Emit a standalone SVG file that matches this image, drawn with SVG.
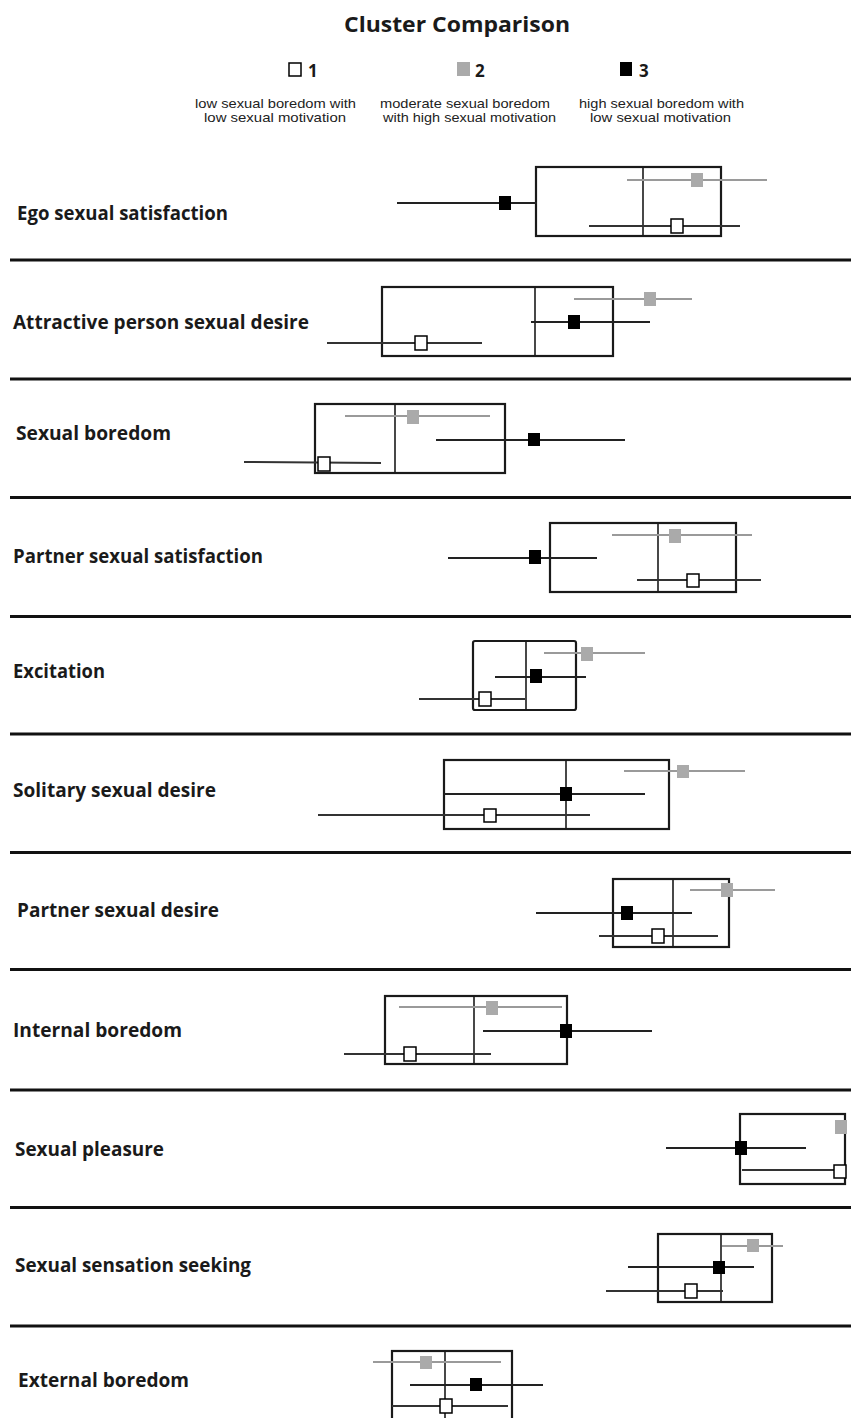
<svg xmlns="http://www.w3.org/2000/svg" width="851" height="1418" viewBox="0 0 851 1418">
<style>
.bg{fill:#fff}
.sep{stroke:#111;stroke-width:3.2}
.box{fill:none;stroke:#1a1a1a;stroke-width:2.2}
.med{stroke:#1a1a1a;stroke-width:1.6}
.eg{stroke:#9a9a9a;stroke-width:2}
.eb{stroke:#222;stroke-width:2}
.ew{stroke:#333;stroke-width:2}
.sg{fill:#aaa}
.sb{fill:#000}
.sw{fill:#fff;stroke:#000;stroke-width:1.5}
.lab{font-family:"Open Sans","DejaVu Sans",sans-serif;font-weight:bold;font-size:19.5px;fill:#1a1a1a}
.title{font-family:"Open Sans","DejaVu Sans",sans-serif;font-weight:bold;font-size:22px;fill:#1a1a1a}
.num{font-family:"Open Sans","DejaVu Sans",sans-serif;font-weight:bold;font-size:17px;fill:#1a1a1a}
.desc{font-family:"Liberation Sans",Arial,sans-serif;font-size:13.5px;fill:#222;text-anchor:middle}
</style>
<rect class="bg" x="0" y="0" width="851" height="1418"/>
<g id="header">
<text class="title" x="344" y="32" textLength="226" lengthAdjust="spacingAndGlyphs">Cluster Comparison</text>
<rect class="sw" x="289" y="63" width="12" height="13"/>
<text class="num" x="308" y="77">1</text>
<rect class="sg" x="457" y="62" width="13" height="14"/>
<text class="num" x="475" y="77">2</text>
<rect class="sb" x="620" y="62" width="12" height="14"/>
<text class="num" x="639" y="77">3</text>
<text class="desc" x="275.5" y="108" textLength="161" lengthAdjust="spacingAndGlyphs">low sexual boredom with</text>
<text class="desc" x="275" y="122" textLength="142" lengthAdjust="spacingAndGlyphs">low sexual motivation</text>
<text class="desc" x="465" y="108" textLength="170" lengthAdjust="spacingAndGlyphs">moderate sexual boredom</text>
<text class="desc" x="469.5" y="122" textLength="173" lengthAdjust="spacingAndGlyphs">with high sexual motivation</text>
<text class="desc" x="661.5" y="108" textLength="165" lengthAdjust="spacingAndGlyphs">high sexual boredom with</text>
<text class="desc" x="660.5" y="122" textLength="141" lengthAdjust="spacingAndGlyphs">low sexual motivation</text>
</g>
<g id="separators">
<line class="sep" x1="10" y1="260" x2="851" y2="260"/>
<line class="sep" x1="10" y1="379" x2="851" y2="379"/>
<line class="sep" x1="10" y1="497.5" x2="851" y2="497.5"/>
<line class="sep" x1="10" y1="616.5" x2="851" y2="616.5"/>
<line class="sep" x1="10" y1="734" x2="851" y2="734"/>
<line class="sep" x1="10" y1="852.5" x2="851" y2="852.5"/>
<line class="sep" x1="10" y1="969.5" x2="851" y2="969.5"/>
<line class="sep" x1="10" y1="1090" x2="851" y2="1090"/>
<line class="sep" x1="10" y1="1207.5" x2="851" y2="1207.5"/>
<line class="sep" x1="10" y1="1326" x2="851" y2="1326"/>
</g>
<g id="ego-sexual-satisfaction">
<text class="lab" x="17" y="220" textLength="211" lengthAdjust="spacingAndGlyphs">Ego sexual satisfaction</text>
<rect class="box" x="536" y="167" width="185" height="69"/>
<line class="med" x1="643" y1="167" x2="643" y2="236"/>
<line class="eg" x1="627" y1="180" x2="767" y2="180"/>
<rect class="sg" x="691" y="173" width="12" height="14"/>
<line class="eb" x1="397" y1="203" x2="537" y2="203"/>
<rect class="sb" x="499" y="196" width="12" height="14"/>
<line class="ew" x1="589" y1="226" x2="740" y2="226"/>
<rect class="sw" x="671" y="219" width="12" height="14"/>
</g>
<g id="attractive-person-sexual-desire">
<text class="lab" x="13" y="329" textLength="296" lengthAdjust="spacingAndGlyphs">Attractive person sexual desire</text>
<rect class="box" x="382" y="287" width="231" height="69"/>
<line class="med" x1="535" y1="287" x2="535" y2="356"/>
<line class="eg" x1="574" y1="299" x2="692" y2="299"/>
<rect class="sg" x="644" y="292" width="12" height="14"/>
<line class="eb" x1="531" y1="322" x2="650" y2="322"/>
<rect class="sb" x="568" y="315" width="12" height="14"/>
<line class="ew" x1="327" y1="343" x2="482" y2="343"/>
<rect class="sw" x="415" y="336" width="12" height="14"/>
</g>
<g id="sexual-boredom">
<text class="lab" x="16" y="440" textLength="155" lengthAdjust="spacingAndGlyphs">Sexual boredom</text>
<rect class="box" x="315" y="404" width="190" height="69"/>
<line class="med" x1="395" y1="404" x2="395" y2="473"/>
<line class="eg" x1="345" y1="416" x2="490" y2="416"/>
<rect class="sg" x="407" y="410" width="12" height="14"/>
<line class="eb" x1="436" y1="440" x2="625" y2="440"/>
<rect class="sb" x="528" y="433" width="12" height="13"/>
<line class="ew" x1="244" y1="462" x2="381" y2="463"/>
<rect class="sw" x="318" y="457" width="12" height="14"/>
</g>
<g id="partner-sexual-satisfaction">
<text class="lab" x="13" y="563" textLength="250" lengthAdjust="spacingAndGlyphs">Partner sexual  satisfaction</text>
<rect class="box" x="550" y="523" width="186" height="69"/>
<line class="med" x1="658" y1="523" x2="658" y2="592"/>
<line class="eg" x1="612" y1="535" x2="752" y2="535"/>
<rect class="sg" x="669" y="529" width="12" height="14"/>
<line class="eb" x1="448" y1="558" x2="597" y2="558"/>
<rect class="sb" x="529" y="550" width="12" height="14"/>
<line class="ew" x1="637" y1="580" x2="761" y2="580"/>
<rect class="sw" x="687" y="574" width="12" height="13"/>
</g>
<g id="excitation">
<text class="lab" x="13" y="678" textLength="92" lengthAdjust="spacingAndGlyphs">Excitation</text>
<rect class="box" x="473" y="641" width="103" height="69" rx="2"/>
<line class="med" x1="526" y1="641" x2="526" y2="710"/>
<line class="eg" x1="544" y1="653" x2="645" y2="653"/>
<rect class="sg" x="581" y="647" width="12" height="14"/>
<line class="eb" x1="495" y1="677" x2="586" y2="677"/>
<rect class="sb" x="530" y="669" width="12" height="14"/>
<line class="ew" x1="419" y1="699" x2="525" y2="699"/>
<rect class="sw" x="479" y="692" width="12" height="14"/>
</g>
<g id="solitary-sexual-desire">
<text class="lab" x="13" y="797" textLength="203" lengthAdjust="spacingAndGlyphs">Solitary sexual desire</text>
<rect class="box" x="444" y="760" width="225" height="69"/>
<line class="med" x1="566" y1="760" x2="566" y2="829"/>
<line class="eg" x1="624" y1="771" x2="745" y2="771"/>
<rect class="sg" x="677" y="765" width="12" height="13"/>
<line class="eb" x1="444" y1="794" x2="645" y2="794"/>
<rect class="sb" x="560" y="787" width="12" height="14"/>
<line class="ew" x1="318" y1="815" x2="590" y2="815"/>
<rect class="sw" x="484" y="809" width="12" height="13"/>
</g>
<g id="partner-sexual-desire">
<text class="lab" x="17" y="917" textLength="202" lengthAdjust="spacingAndGlyphs">Partner sexual  desire</text>
<rect class="box" x="613" y="879" width="116" height="68"/>
<line class="med" x1="673" y1="879" x2="673" y2="947"/>
<line class="eg" x1="690" y1="890" x2="775" y2="890"/>
<rect class="sg" x="721" y="883" width="12" height="14"/>
<line class="eb" x1="536" y1="913" x2="692" y2="913"/>
<rect class="sb" x="621" y="906" width="12" height="14"/>
<line class="ew" x1="599" y1="936" x2="718" y2="936"/>
<rect class="sw" x="652" y="929" width="12" height="14"/>
</g>
<g id="internal-boredom">
<text class="lab" x="13" y="1037" textLength="169" lengthAdjust="spacingAndGlyphs">Internal boredom</text>
<rect class="box" x="385" y="996" width="182" height="68"/>
<line class="med" x1="474" y1="996" x2="474" y2="1064"/>
<line class="eg" x1="399" y1="1007" x2="562" y2="1007"/>
<rect class="sg" x="486" y="1001" width="12" height="14"/>
<line class="eb" x1="483" y1="1031" x2="652" y2="1031"/>
<rect class="sb" x="560" y="1024" width="12" height="14"/>
<line class="ew" x1="344" y1="1054" x2="491" y2="1054"/>
<rect class="sw" x="404" y="1047" width="12" height="14"/>
</g>
<g id="sexual-pleasure">
<text class="lab" x="15" y="1156" textLength="149" lengthAdjust="spacingAndGlyphs">Sexual pleasure</text>
<rect class="box" x="740" y="1114" width="105" height="70"/>
<rect class="sg" x="835" y="1120" width="12" height="14"/>
<line class="eb" x1="666" y1="1148" x2="806" y2="1148"/>
<rect class="sb" x="735" y="1141" width="12" height="14"/>
<line class="ew" x1="742" y1="1170" x2="836" y2="1170"/>
<rect class="sw" x="834" y="1165" width="12" height="13"/>
</g>
<g id="sexual-sensation-seeking">
<text class="lab" x="15" y="1272" textLength="236" lengthAdjust="spacingAndGlyphs">Sexual sensation seeking</text>
<rect class="box" x="658" y="1234" width="114" height="68"/>
<line class="med" x1="721" y1="1234" x2="721" y2="1302"/>
<line class="eg" x1="722" y1="1246" x2="783" y2="1246"/>
<rect class="sg" x="747" y="1239" width="12" height="13"/>
<line class="eb" x1="628" y1="1267" x2="754" y2="1267"/>
<rect class="sb" x="713" y="1261" width="12" height="13"/>
<line class="ew" x1="606" y1="1291" x2="723" y2="1291"/>
<rect class="sw" x="685" y="1284" width="12" height="14"/>
</g>
<g id="external-boredom">
<text class="lab" x="18" y="1387" textLength="171" lengthAdjust="spacingAndGlyphs">External boredom</text>
<rect class="box" x="392" y="1351" width="120" height="75"/>
<line class="med" x1="445" y1="1351" x2="445" y2="1426"/>
<line class="eg" x1="373" y1="1362" x2="501" y2="1362"/>
<rect class="sg" x="420" y="1356" width="12" height="13"/>
<line class="eb" x1="410" y1="1385" x2="543" y2="1385"/>
<rect class="sb" x="470" y="1378" width="12" height="13"/>
<line class="ew" x1="392" y1="1406" x2="508" y2="1406"/>
<rect class="sw" x="440" y="1399" width="12" height="14"/>
</g>
</svg>
